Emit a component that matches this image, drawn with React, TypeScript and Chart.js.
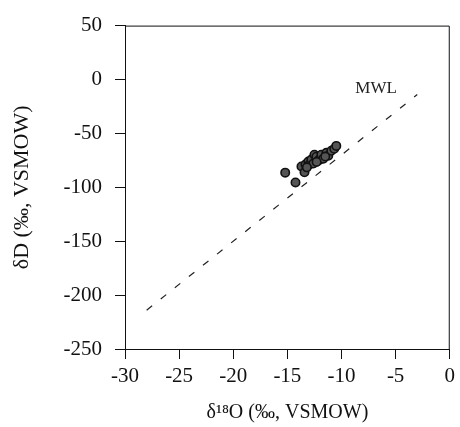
import React, { useEffect, useRef } from "react";
import { Chart, registerables } from "chart.js";

Chart.register(...registerables);

const d18O = [-15.2, -14.25, -13.7, -13.42, -13.33, -13.06, -12.96, -12.78, -12.6, -12.5, -12.32, -12.14, -12.04, -11.86, -11.68, -11.4, -11.22, -10.94, -10.67, -10.48, -13.2, -12.3, -11.5];
const dD = [-86.4, -95.5, -80.7, -86.1, -78.9, -76.1, -78.9, -74.3, -78.0, -69.8, -71.6, -75.2, -74.3, -69.8, -73.4, -68.0, -70.7, -66.1, -64.3, -61.6, -81.5, -76.5, -71.5];

const mwlX = [-28, -3];
const mwlY = [-214, -14];
const mwlLabel = "MWL";
const mwlLabelPos = [-6.8, -8.2];

const xTicks = [-30, -25, -20, -15, -10, -5, 0];
const yTicks = [50, 0, -50, -100, -150, -200, -250];

const FONT = "'Liberation Serif', 'DejaVu Serif', serif";

export default function App() {
  const ref = useRef<HTMLCanvasElement | null>(null);
  useEffect(() => {
    document.body.style.margin = "0";
    const ctx = ref.current!.getContext("2d")!;
    const framePlugin = {
      id: "frame",
      afterDraw(chart: any) {
        const { ctx, chartArea: a, scales } = chart;
        ctx.save();
        ctx.strokeStyle = "#111";
        ctx.lineWidth = 1;
        ctx.beginPath();
        ctx.moveTo(a.left, a.top + 0.5);
        ctx.lineTo(a.right - 0.5, a.top + 0.5);
        ctx.lineTo(a.right - 0.5, a.bottom);
        ctx.stroke();
        ctx.fillStyle = "#222";
        ctx.font = "17px " + FONT;
        ctx.textAlign = "center";
        ctx.textBaseline = "middle";
        ctx.fillText(mwlLabel, scales.x.getPixelForValue(mwlLabelPos[0]), scales.y.getPixelForValue(mwlLabelPos[1]));
        ctx.restore();
      },
    };
    const chart = new Chart(ctx, {
      type: "scatter",
      data: {
        datasets: [
          {
            label: "MWL",
            data: mwlX.map((x, i) => ({ x, y: mwlY[i] })),
            showLine: true,
            borderColor: "#222",
            borderWidth: 1.2,
            borderDash: [7, 11],
            pointRadius: 0,
          },
          {
            label: "samples",
            data: d18O.map((x, i) => ({ x, y: dD[i] })),
            pointRadius: 4.2,
            pointBackgroundColor: "#555",
            pointBorderColor: "#111",
            pointBorderWidth: 1.6,
          },
        ],
      },
      options: {
        animation: false,
        responsive: false,
        layout: { padding: { top: 18, right: 9, left: 0, bottom: 0 } },
        plugins: { legend: { display: false }, tooltip: { enabled: false } },
        scales: {
          x: {
            type: "linear",
            min: -30,
            max: 0,
            afterBuildTicks: (s: any) => { s.ticks = xTicks.map((v) => ({ value: v })); },
            afterFit: (s: any) => { s.height = 78; },
            grid: { drawOnChartArea: false, drawTicks: true, tickLength: 10, tickColor: "#111" },
            border: { color: "#111", width: 1 },
            ticks: { color: "#111", font: { family: FONT, size: 21 }, padding: 5, maxRotation: 0 },
            title: { display: true, text: "δ¹⁸O (‰, VSMOW)", color: "#111", font: { family: FONT, size: 20 }, padding: { top: 0, bottom: 2 } },
          },
          y: {
            type: "linear",
            min: -250,
            max: 50,
            afterBuildTicks: (s: any) => { s.ticks = yTicks.map((v) => ({ value: v })); },
            afterFit: (s: any) => { s.width = 125; },
            grid: { drawOnChartArea: false, drawTicks: true, tickLength: 10, tickColor: "#111" },
            border: { color: "#111", width: 1 },
            ticks: { color: "#111", font: { family: FONT, size: 21 }, padding: 13 },
            title: { display: true, text: "δD (‰, VSMOW)", color: "#111", font: { family: FONT, size: 22 }, padding: { top: 9, bottom: 0 } },
          },
        },
      },
      plugins: [framePlugin],
    });
    return () => chart.destroy();
  }, []);
  return (
    <div style={{ width: 460, height: 427 }}>
      <canvas ref={ref} width={460} height={427} style={{ display: "block" }} />
    </div>
  );
}
